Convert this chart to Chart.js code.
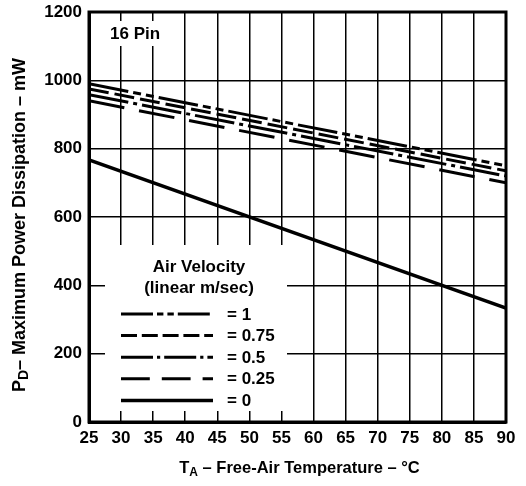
<!DOCTYPE html>
<html>
<head>
<meta charset="utf-8">
<script src="https://cdn.jsdelivr.net/npm/chart.js@4/dist/chart.umd.min.js"></script>
<style>
html,body{margin:0;padding:0;background:#fff;}
canvas{display:block;}
</style>
</head>
<body>
<canvas id="c" width="526" height="486"></canvas>
<script>
// ---- data ----
const temps = [25, 90];                 // °C
const pdAir1   = [990, 750];            // air velocity 1 m/s
const pdAir075 = [975, 735];            // 0.75 m/s
const pdAir05  = [958, 720];            // 0.5 m/s
const pdAir025 = [940, 700];            // 0.25 m/s
const pdAir0   = [767, 333];            // still air
const seriesLabels = ['= 1', '= 0.75', '= 0.5', '= 0.25', '= 0'];
const xMin = 25, xMax = 90, xStep = 5;
const yMin = 0, yMax = 1200, yStep = 200;
const panelLabel = '16 Pin';
const legendTitle = ['Air Velocity', '(linear m/sec)'];

const FONT = "'Liberation Sans', Arial, Helvetica, sans-serif";
Chart.defaults.font.family = FONT;
Chart.defaults.font.size = 17;
Chart.defaults.font.weight = 'bold';
Chart.defaults.color = '#000';

function pts(ys){ return temps.map((t,i)=>({x:t, y:ys[i]})); }

const styles = [
  {dash:[40,5,8,5,8,5], w:3},
  {dash:[20,6], w:3},
  {dash:[40,5,4,5], w:3},
  {dash:[36,15], w:3},
  {dash:[], w:3.5}
];
const values = [pdAir1, pdAir075, pdAir05, pdAir025, pdAir0];
const datasets = values.map((v,i)=>({
  label: seriesLabels[i],
  data: pts(v),
  borderColor:'#000',
  borderWidth: styles[i].w,
  borderDash: styles[i].dash,
  borderCapStyle:'butt',
  pointRadius:0,
  fill:false,
  tension:0
}));

const decor = {
  id:'decor',
  beforeDatasetsDraw(chart){
    const {ctx, chartArea:a} = chart;
    ctx.save();
    // legend box (white, hides grid)
    const bx = a.left + 16, by = a.top + 233, bw = 182, bh = 166;
    ctx.fillStyle = '#fff';
    ctx.fillRect(bx, by, bw, bh);
    // panel label box
    ctx.fillRect(a.left + 19, a.top + 9, 56, 25);
    ctx.fillStyle = '#000';
    ctx.font = 'bold 17px ' + FONT;
    ctx.textAlign = 'center';
    ctx.textBaseline = 'middle';
    const cx = a.left + 110;
    ctx.fillText(legendTitle[0], cx, a.top + 255);
    ctx.fillText(legendTitle[1], cx, a.top + 276);
    const ds = chart.data.datasets;
    ds.forEach((d,i)=>{
      const y = a.top + 302 + i*21.6;
      ctx.beginPath();
      ctx.lineWidth = d.borderWidth;
      ctx.strokeStyle = '#000';
      ctx.setLineDash(d.borderDash.map(v=>v*0.8));
      ctx.moveTo(a.left + 32, y);
      ctx.lineTo(a.left + 124, y);
      ctx.stroke();
      ctx.setLineDash([]);
      ctx.textAlign = 'left';
      ctx.fillText(d.label, a.left + 138, y + 1);
    });
    // panel label
    ctx.textAlign = 'left';
    ctx.fillText(panelLabel, a.left + 21, a.top + 22);
    ctx.restore();
  },
  afterDatasetsDraw(chart){
    const {ctx, chartArea:a} = chart;
    ctx.save();
    ctx.strokeStyle = '#000';
    ctx.lineWidth = 3;
    ctx.strokeRect(a.left, a.top, a.right - a.left, a.bottom - a.top);
    ctx.restore();
  },
  afterDraw(chart){
    const {ctx, chartArea:a} = chart;
    ctx.save();
    ctx.fillStyle = '#000';
    ctx.textBaseline = 'alphabetic';
    function drawSub(parts, size){
      const big = 'bold ' + size + 'px ' + FONT, small = 'bold ' + Math.round(size*0.75) + 'px ' + FONT;
      let w = 0;
      parts.forEach(p=>{ ctx.font = p[1]?small:big; w += ctx.measureText(p[0]).width; });
      let x = -w/2;
      parts.forEach(p=>{
        ctx.font = p[1]?small:big;
        ctx.fillText(p[0], x, p[1]? size*0.56 : size*0.38);
        x += ctx.measureText(p[0]).width;
      });
    }
    // x title
    ctx.save();
    ctx.translate((a.left + a.right)/2 + 2, 467);
    drawSub([['T',false],['A',true],[' \u2013 Free-Air Temperature \u2013 \u00B0C',false]], 16.5);
    ctx.restore();
    // y title
    ctx.save();
    ctx.translate(18, (a.top + a.bottom)/2 + 8);
    ctx.rotate(-Math.PI/2);
    drawSub([['P',false],['D',true],['\u2013 Maximum Power Dissipation \u2013 mW',false]], 18);
    ctx.restore();
    ctx.restore();
  }
};

new Chart(document.getElementById('c'), {
  type:'line',
  data:{datasets},
  options:{
    responsive:false,
    animation:false,
    layout:{padding:{top:12, right:20, left:0, bottom:0}},
    plugins:{legend:{display:false}, tooltip:{enabled:false}},
    scales:{
      x:{
        type:'linear', min:xMin, max:xMax,
        ticks:{stepSize:xStep, padding:6, maxRotation:0, autoSkip:false,
               callback:(v)=>String(v)},
        grid:{color:'#000', lineWidth:1.5, drawTicks:false},
        border:{color:'#000', width:3},
        afterFit(s){ s.height = 64; s.paddingLeft = 0; s.paddingRight = 0; }
      },
      y:{
        type:'linear', min:yMin, max:yMax,
        ticks:{stepSize:yStep, padding:7, callback:(v)=>String(v)},
        grid:{color:'#000', lineWidth:1.5, drawTicks:false},
        border:{color:'#000', width:3},
        afterFit(s){ s.width = 89; s.paddingTop = 0; s.paddingBottom = 0; }
      }
    }
  },
  plugins:[decor]
});
</script>
</body>
</html>
